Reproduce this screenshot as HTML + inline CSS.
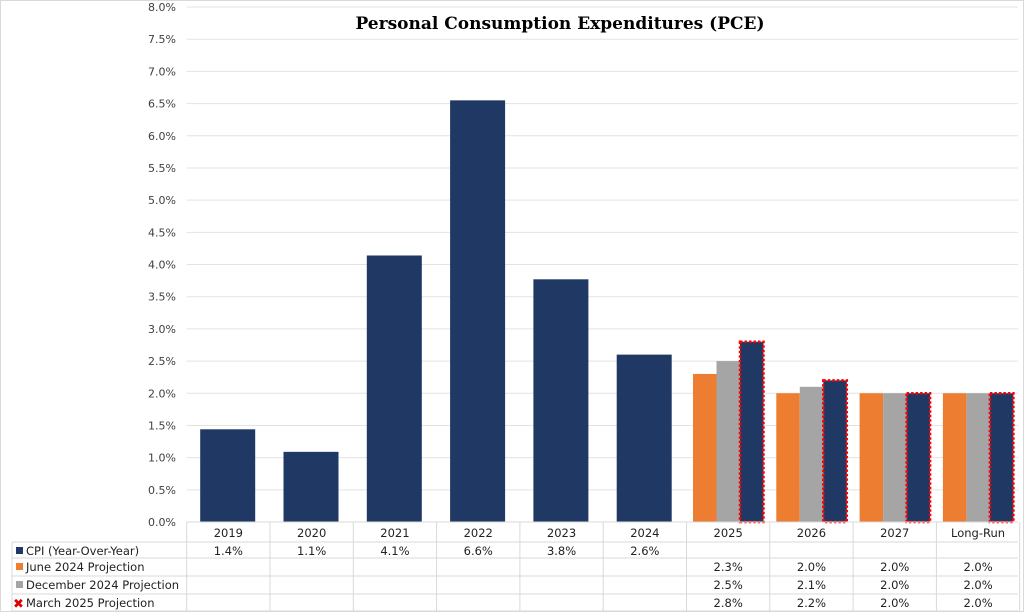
<!DOCTYPE html>
<html><head><meta charset="utf-8"><style>
body{margin:0;background:#fff;width:1024px;height:612px;overflow:hidden}
svg{display:block;font-family:"DejaVu Sans","Liberation Sans",sans-serif}
</style></head><body>
<svg id="c" width="1024" height="612">
<rect x="0.5" y="0.5" width="1023" height="611" fill="#fff" stroke="#d9d9d9"/>
<text x="560" y="29" text-anchor="middle" font-family="'DejaVu Serif','Liberation Serif',serif" font-weight="bold" font-size="17">Personal Consumption Expenditures (PCE)</text>
<g id="grid"></g><g id="bars"></g><g id="table"></g>
</svg>
<script>
const categories=["2019","2020","2021","2022","2023","2024","2025","2026","2027","Long-Run"];
const cpiValues=[1.44,1.09,4.14,6.55,3.77,2.6,null,null,null,null];
const june2024=[null,null,null,null,null,null,2.3,2.0,2.0,2.0];
const dec2024=[null,null,null,null,null,null,2.5,2.1,2.0,2.0];
const mar2025=[null,null,null,null,null,null,2.8,2.2,2.0,2.0];
const yTicks=[0,0.5,1,1.5,2,2.5,3,3.5,4,4.5,5,5.5,6,6.5,7,7.5,8];
const NS="http://www.w3.org/2000/svg";
const x0=186.7,cw=83.3,y0=522,yTop=7,yMax=8;
const y=v=>y0-(v/yMax)*(y0-yTop);
const cx=i=>x0+cw*i;
const fmt=v=>(Math.round(v*10+1e-9)/10).toFixed(1)+'%';
function mk(tag,attrs,parent,txt){const e=document.createElementNS(NS,tag);for(const k in attrs)e.setAttribute(k,attrs[k]);if(txt!=null)e.textContent=txt;parent.appendChild(e);return e;}
const grid=document.getElementById('grid'),bars=document.getElementById('bars'),table=document.getElementById('table');
yTicks.forEach(t=>{
 const l=mk('line',{x1:x0,x2:1018,y1:y(t),y2:y(t),stroke:'#e3e3e3'},grid);
 
 
 const tx=mk('text',{x:176,y:y(t)+4,'text-anchor':'end','font-size':11,fill:'#404040'},grid,t.toFixed(1)+'%');
 
 
});
const colors={cpi:'#203864',jun:'#ed7d31',dec:'#a5a5a5'};
categories.forEach((c,i)=>{
 if(cpiValues[i]!=null){
  const r=mk('rect',{x:cx(i)+13.5,y:y(cpiValues[i]),width:55,height:y0-y(cpiValues[i]),fill:colors.cpi},bars);
  
  
 }
 const bw=23.5,gx=cx(i)+6.5;
 if(june2024[i]!=null){
  const r=mk('rect',{x:gx,y:y(june2024[i]),width:bw,height:y0-y(june2024[i]),fill:colors.jun},bars);
  
  
 }
 if(dec2024[i]!=null){
  const r=mk('rect',{x:gx+bw,y:y(dec2024[i]),width:bw,height:y0-y(dec2024[i]),fill:colors.dec},bars);
  
  
 }
 if(mar2025[i]!=null){
  const r=mk('rect',{x:gx+2*bw,y:y(mar2025[i]),width:bw,height:y0-y(mar2025[i]),fill:colors.cpi,stroke:'#ff0000','stroke-width':2.5,'stroke-dasharray':'2.5,2'},bars);
  
  
 }
});
const rowsY=[522,542,558,576,594,611];
const tl=(x1,y1,x2,y2)=>{const l=mk('line',{x1,y1,x2,y2,stroke:'#d9d9d9'},table);};
for(let r=0;r<rowsY.length;r++){tl(r===0?x0:12,rowsY[r],1018,rowsY[r]);}
for(let i=0;i<=categories.length;i++)tl(cx(i),522,cx(i),611);
tl(12,542,12,611);
categories.forEach((c,i)=>{
 const t=mk('text',{x:cx(i)+cw/2,y:537,'text-anchor':'middle','font-size':11.5,fill:'#222'},table,c);
 
 
});
const series=[["CPI (Year-Over-Year)",cpiValues,colors.cpi],["June 2024 Projection",june2024,colors.jun],["December 2024 Projection",dec2024,colors.dec],["March 2025 Projection",mar2025,'x']];
series.forEach((s,r)=>{
 const ty=rowsY[r+1]+13;
 if(s[2]==='x'){const t=mk('text',{x:13,y:ty+1,'font-size':13,fill:'#e00000','font-weight':'bold'},table,'✖');}
 else{const k=mk('rect',{x:16,y:ty-8,width:7,height:7,fill:s[2]},table);}
 const lab=mk('text',{x:26,y:ty,'font-size':11.5,fill:'#222'},table,s[0]);
 
 
 s[1].forEach((v,i)=>{if(v==null)return;
  const t=mk('text',{x:cx(i)+cw/2,y:ty,'text-anchor':'middle','font-size':11.5,fill:'#222'},table,fmt(v));
  
  
 });
});
</script>
</body></html>
